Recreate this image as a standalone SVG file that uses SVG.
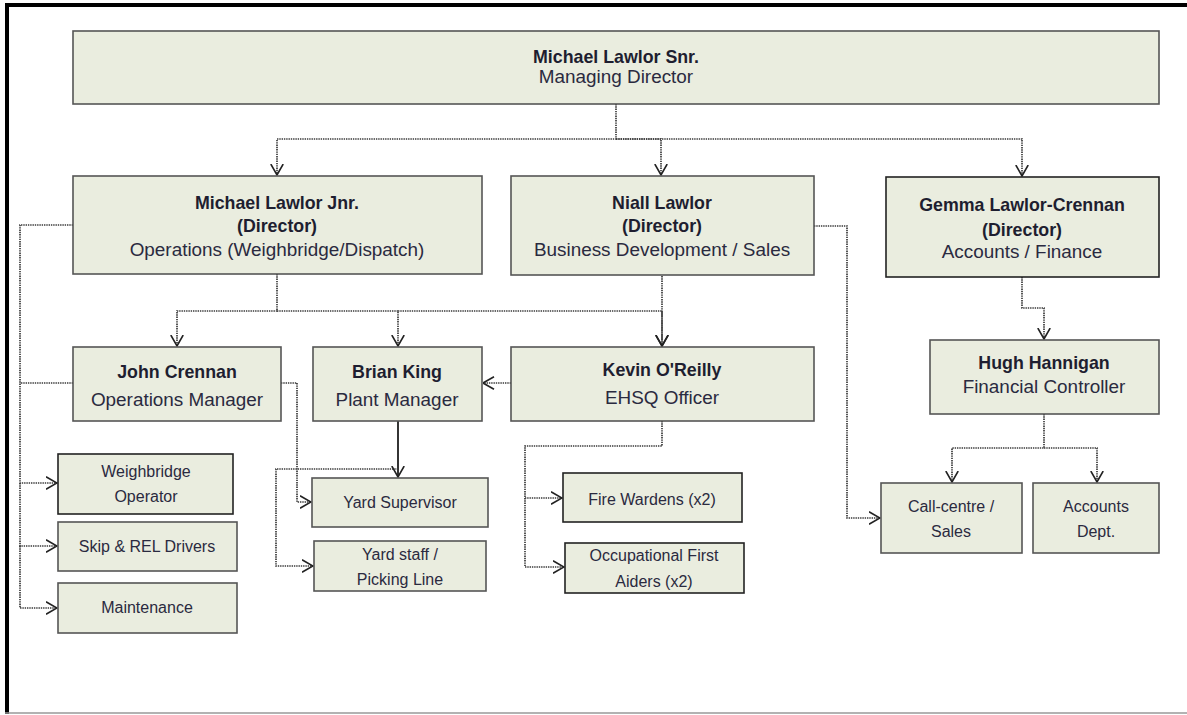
<svg xmlns="http://www.w3.org/2000/svg" width="1187" height="715" viewBox="0 0 1187 715">
<style>
.box{fill:#eaeddf;stroke:#555;stroke-width:1.6}
.bd{stroke:#222}
.b{font-family:"Liberation Sans",Arial,sans-serif;font-weight:bold;font-size:17.8px;fill:#1e1e30;text-anchor:middle}
.n{font-family:"Liberation Sans",Arial,sans-serif;font-size:18.9px;fill:#2a2a40;text-anchor:middle}
.s{font-family:"Liberation Sans",Arial,sans-serif;font-size:16px;fill:#2a2a40;text-anchor:middle}
.c{fill:none;stroke:#3a3a3a;stroke-width:1.7;stroke-dasharray:1.4 0.9}
.cs{fill:none;stroke:#111;stroke-width:1.7}
</style>
<defs>
<marker id="ah" viewBox="0 0 12 14" refX="11.5" refY="7" markerWidth="12" markerHeight="14" markerUnits="userSpaceOnUse" orient="auto">
<path d="M0.5,0.8 L11.5,7 L0.5,13.2" fill="none" stroke="#222" stroke-width="1.6"/>
</marker>
</defs>
<rect width="1187" height="715" fill="#fff"/>
<g id="frame">
<line x1="5" y1="5" x2="1187" y2="5" stroke="#000" stroke-width="4"/>
<line x1="7" y1="3" x2="7" y2="714" stroke="#000" stroke-width="4"/>
<line x1="5" y1="713" x2="1187" y2="713" stroke="#999" stroke-width="1.5"/>
</g>
<g id="connectors">
<path class="c" d="M616,104 V139 H277 V175" marker-end="url(#ah)"/>
<path class="c" d="M616,139 H661 V175" marker-end="url(#ah)"/>
<path class="c" d="M616,139 H1022 V176" marker-end="url(#ah)"/>
<path class="c" d="M277,274 V311 H177 V346" marker-end="url(#ah)"/>
<path class="c" d="M277,311 H398 V346" marker-end="url(#ah)"/>
<path class="c" d="M398,311 H662 V346" marker-end="url(#ah)"/>
<path class="c" d="M662,276 V346" marker-end="url(#ah)"/>
<path class="c" d="M73,225 H20 V483 H57" marker-end="url(#ah)"/>
<path class="c" d="M20,483 V546 H57" marker-end="url(#ah)"/>
<path class="c" d="M20,546 V608 H57" marker-end="url(#ah)"/>
<path class="c" d="M73,383 H20"/>
<path class="c" d="M281,383 H297 V502 H311" marker-end="url(#ah)"/>
<path class="cs" d="M398,421 V477" marker-end="url(#ah)"/>
<path class="c" d="M398,469 H276 V566 H313" marker-end="url(#ah)"/>
<path class="c" d="M511,383 H483" marker-end="url(#ah)"/>
<path class="c" d="M662,421 V446 H525 V498 H562" marker-end="url(#ah)"/>
<path class="c" d="M525,498 V567 H564" marker-end="url(#ah)"/>
<path class="c" d="M814,226 H847 V518 H880" marker-end="url(#ah)"/>
<path class="c" d="M1022,277 V308 H1044 V339" marker-end="url(#ah)"/>
<path class="c" d="M1044,414 V448 H952 V482" marker-end="url(#ah)"/>
<path class="c" d="M1044,448 H1097 V482" marker-end="url(#ah)"/>
</g>
<g id="n-snr">
<rect class="box" x="73" y="31" width="1086" height="73"/>
<text class="b" x="616" y="63">Michael Lawlor Snr.</text>
<text class="n" x="616" y="83">Managing Director</text>
</g>
<g id="n-jnr">
<rect class="box" x="73" y="176" width="409" height="98"/>
<text class="b" x="277" y="209">Michael Lawlor Jnr.</text>
<text class="b" x="277" y="232">(Director)</text>
<text class="n" x="277" y="256">Operations (Weighbridge/Dispatch)</text>
</g>
<g id="n-niall">
<rect class="box" x="511" y="176" width="303" height="99"/>
<text class="b" x="662" y="209">Niall Lawlor</text>
<text class="b" x="662" y="232">(Director)</text>
<text class="n" x="662" y="256">Business Development / Sales</text>
</g>
<g id="n-gemma">
<rect class="box bd" x="886" y="177" width="273" height="100"/>
<text class="b" x="1022" y="211">Gemma Lawlor-Crennan</text>
<text class="b" x="1022" y="236">(Director)</text>
<text class="n" x="1022" y="258">Accounts / Finance</text>
</g>
<g id="n-john">
<rect class="box" x="73" y="347" width="208" height="74"/>
<text class="b" x="177" y="378">John Crennan</text>
<text class="n" x="177" y="406">Operations Manager</text>
</g>
<g id="n-brian">
<rect class="box" x="313" y="347" width="169" height="74"/>
<text class="b" x="397" y="378">Brian King</text>
<text class="n" x="397" y="406">Plant Manager</text>
</g>
<g id="n-kevin">
<rect class="box" x="511" y="347" width="303" height="74"/>
<text class="b" x="662" y="376">Kevin O'Reilly</text>
<text class="n" x="662" y="404">EHSQ Officer</text>
</g>
<g id="n-hugh">
<rect class="box" x="930" y="340" width="229" height="74"/>
<text class="b" x="1044" y="369">Hugh Hannigan</text>
<text class="n" x="1044" y="393">Financial Controller</text>
</g>
<g id="n-weigh">
<rect class="box bd" x="58" y="454" width="175" height="60"/>
<text class="s" x="146" y="477">Weighbridge</text>
<text class="s" x="146" y="502">Operator</text>
</g>
<g id="n-skip">
<rect class="box" x="58" y="522" width="179" height="49"/>
<text class="s" x="147" y="552">Skip &amp; REL Drivers</text>
</g>
<g id="n-maint">
<rect class="box" x="58" y="583" width="179" height="50"/>
<text class="s" x="147" y="613">Maintenance</text>
</g>
<g id="n-yardsup">
<rect class="box" x="312" y="478" width="176" height="49"/>
<text class="s" x="400" y="508">Yard Supervisor</text>
</g>
<g id="n-yardstaff">
<rect class="box" x="314" y="541" width="172" height="50"/>
<text class="s" x="400" y="560">Yard staff /</text>
<text class="s" x="400" y="585">Picking Line</text>
</g>
<g id="n-fire">
<rect class="box bd" x="563" y="473" width="179" height="49"/>
<text class="s" x="652" y="505">Fire Wardens (x2)</text>
</g>
<g id="n-first">
<rect class="box bd" x="565" y="543" width="179" height="50"/>
<text class="s" x="654" y="561">Occupational First</text>
<text class="s" x="654" y="587">Aiders (x2)</text>
</g>
<g id="n-call">
<rect class="box" x="881" y="483" width="141" height="70"/>
<text class="s" x="951" y="512">Call-centre /</text>
<text class="s" x="951" y="537">Sales</text>
</g>
<g id="n-acc">
<rect class="box" x="1033" y="483" width="126" height="70"/>
<text class="s" x="1096" y="512">Accounts</text>
<text class="s" x="1096" y="537">Dept.</text>
</g>
</svg>
